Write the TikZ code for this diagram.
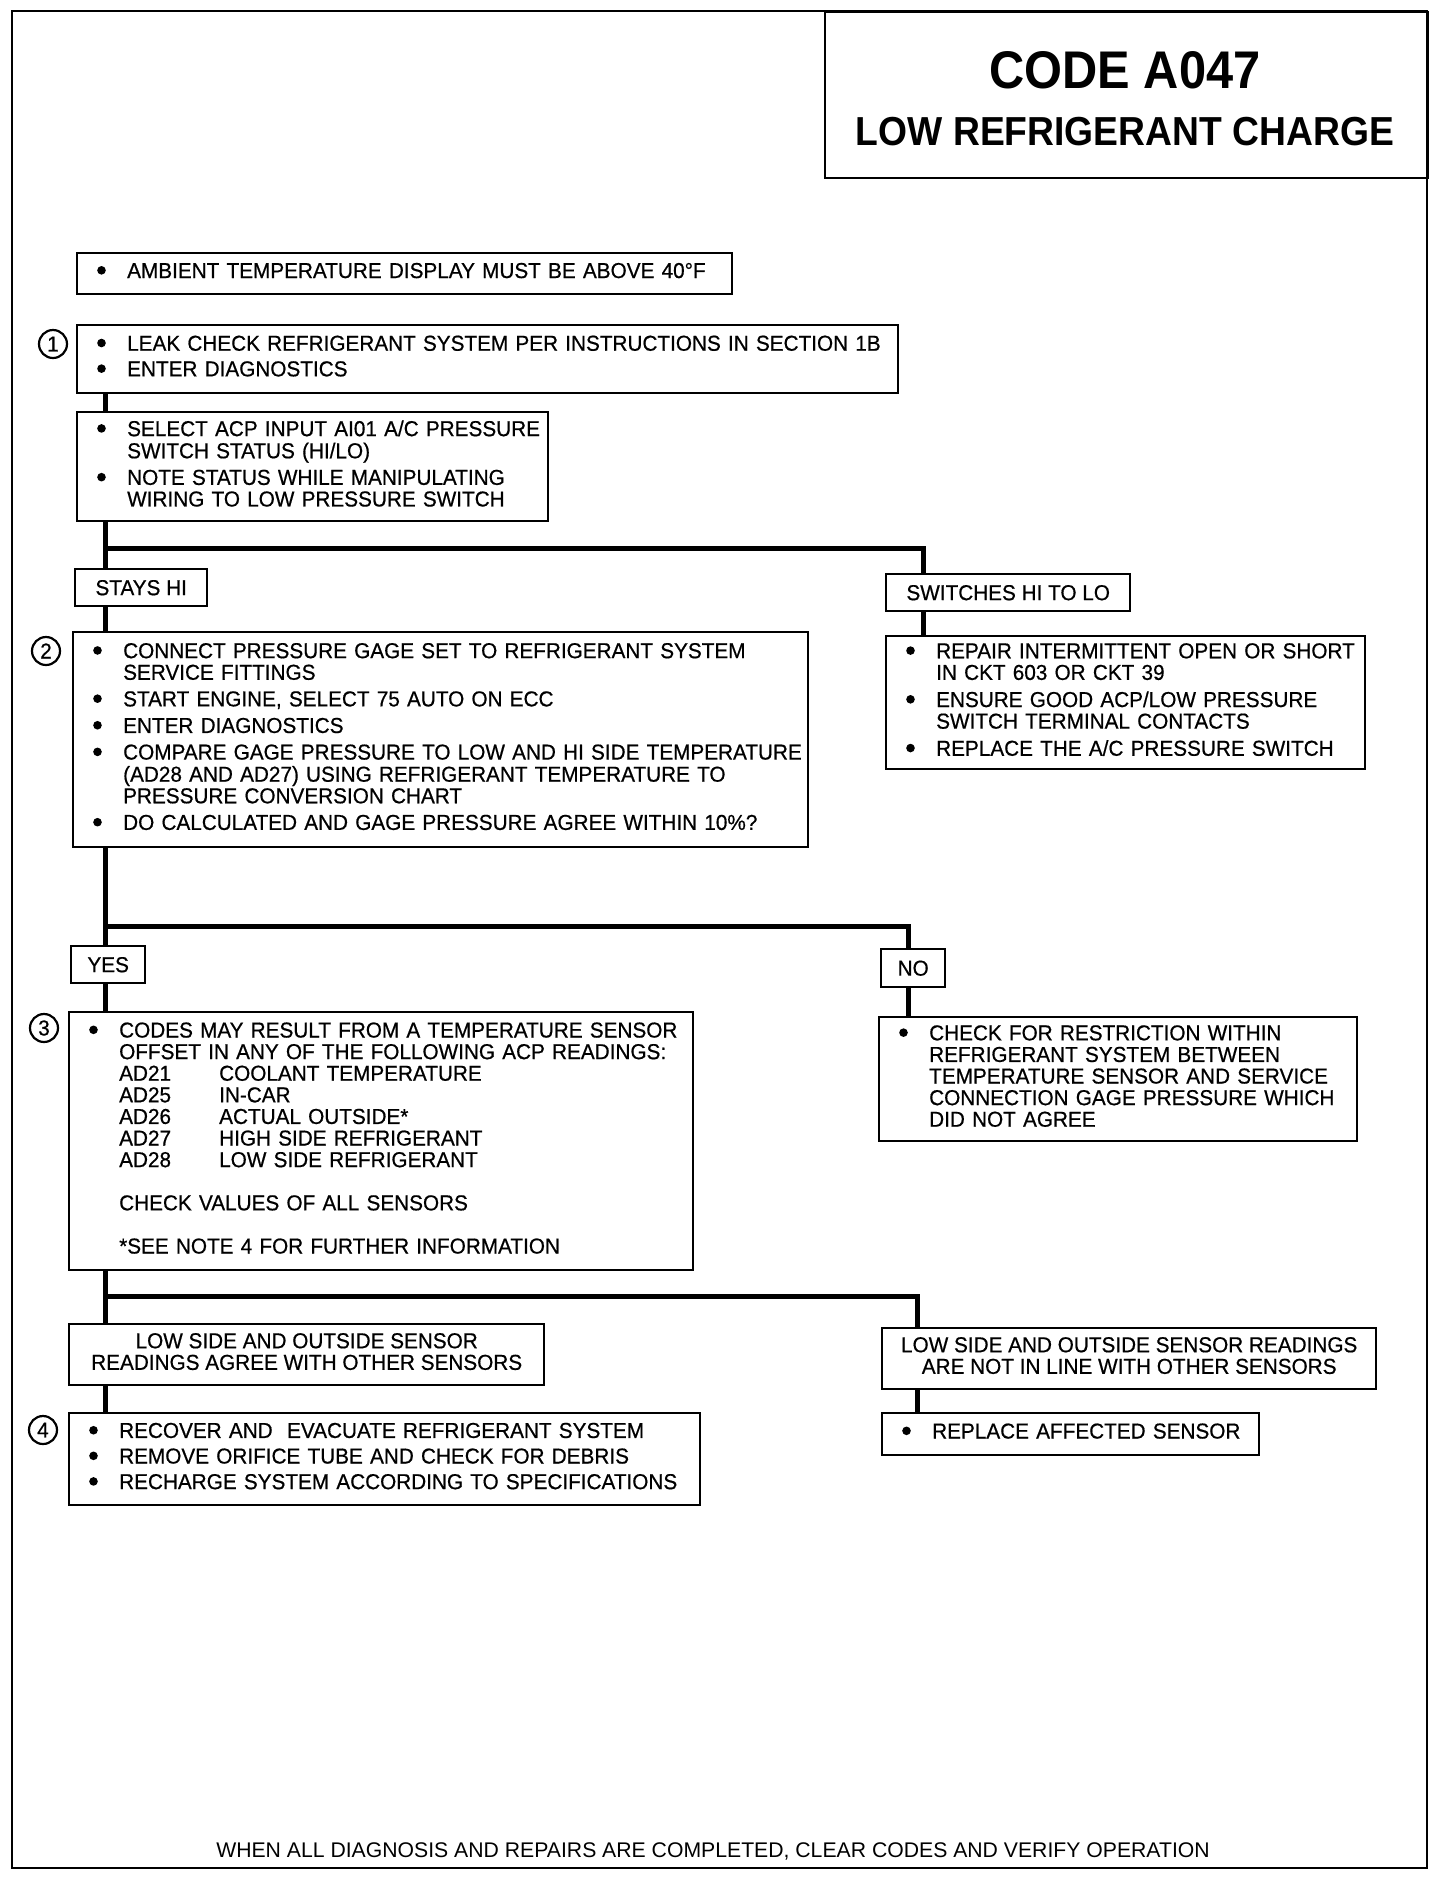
\documentclass[tikz,border=0pt]{standalone}
\usepackage{fontspec}
\setmainfont{Liberation Sans}
\newfontfamily\bxfont{Liberation Sans}[FakeStretch=0.96,FakeBold=0.6]
\newfontfamily\ttlfont{Liberation Sans}[FakeStretch=0.92]
\usetikzlibrary{calc}
\newcommand\fs{\bxfont\fontsize{21.6}{21.6}\selectfont}
\newcommand\bu{\makebox[30pt][l]{\tikz[baseline=0pt]\fill (4.3pt,7.7pt) circle[radius=4.3pt];}}
\newcommand\tb[1]{\begin{tabular}{@{}l@{}l@{}}#1\end{tabular}}
\newcommand\tc[1]{\begin{tabular}{@{}c@{}}#1\end{tabular}}
\begin{document}
\begin{tikzpicture}[x=1pt,y=-1pt,
  box/.style={draw, line width=2.4pt, inner xsep=20pt, inner ysep=0pt, anchor=north west, font=\fs, align=left},
  cbox/.style={draw, line width=2.4pt, inner sep=0pt, anchor=north west, font=\fs},
  circ/.style={circle, draw, line width=2.2pt, minimum size=28pt, inner sep=0pt, font=\fs},
  conn/.style={line width=5pt, line join=miter},
  frame/.style={line width=2.4pt}]
\useasboundingbox (0,0) rectangle (1440,1880);
\draw[frame] (12,11) rectangle (1427,1868);

% title
\node[cbox, minimum width=603pt, minimum height=166pt] (title) at (824,11) {};
\node[font=\ttlfont\bfseries\fontsize{53}{54}\selectfont] (t1) at (1125,70) {CODE A047};
\node[font=\ttlfont\bfseries\fontsize{40.5}{41}\selectfont] (t2) at (1125,132) {LOW REFRIGERANT CHARGE};

% boxes
\node[box, text width=615pt, minimum height=41pt] (amb) at (76,252)
  {\tb{\bu & AMBIENT TEMPERATURE DISPLAY MUST BE ABOVE 40°F}};
\node[box, text width=781pt, minimum height=68pt] (b1) at (76,324)
  {\tb{\bu & LEAK CHECK REFRIGERANT SYSTEM PER INSTRUCTIONS IN SECTION 1B\\[4pt]
       \bu & ENTER DIAGNOSTICS}};
\node[circ] (c1) at (53,344) {1};
\node[box, text width=431pt, minimum height=109pt] (bs) at (76,411)
  {\tb{\bu & SELECT ACP INPUT AI01 A/C PRESSURE\\
           & SWITCH STATUS (HI/LO)\\[5pt]
       \bu & NOTE STATUS WHILE MANIPULATING\\
           & WIRING TO LOW PRESSURE SWITCH}};
\node[cbox, minimum width=132pt, minimum height=37pt] (stays) at (74,568) {STAYS HI};
\node[cbox, minimum width=244pt, minimum height=37pt] (switches) at (885,573) {SWITCHES HI TO LO};
\node[box, text width=439pt, minimum height=133pt] (repair) at (885,635)
  {\tb{\bu & REPAIR INTERMITTENT OPEN OR SHORT\\
           & IN CKT 603 OR CKT 39\\[5pt]
       \bu & ENSURE GOOD ACP/LOW PRESSURE\\
           & SWITCH TERMINAL CONTACTS\\[5pt]
       \bu & REPLACE THE A/C PRESSURE SWITCH}};
\node[box, text width=695pt, minimum height=215pt] (b2) at (72,631)
  {\tb{\bu & CONNECT PRESSURE GAGE SET TO REFRIGERANT SYSTEM\\
           & SERVICE FITTINGS\\[5pt]
       \bu & START ENGINE, SELECT 75 AUTO ON ECC\\[5pt]
       \bu & ENTER DIAGNOSTICS\\[5pt]
       \bu & COMPARE GAGE PRESSURE TO LOW AND HI SIDE TEMPERATURE\\
           & (AD28 AND AD27) USING REFRIGERANT TEMPERATURE TO\\
           & PRESSURE CONVERSION CHART\\[5pt]
       \bu & DO CALCULATED AND GAGE PRESSURE AGREE WITHIN 10\%?}};
\node[circ] (c2) at (46,651) {2};
\node[cbox, minimum width=74pt, minimum height=37pt] (yes) at (70,945) {YES};
\node[cbox, minimum width=64pt, minimum height=38pt] (no) at (880,948) {NO};
\node[box, text width=438pt, minimum height=124pt] (check) at (878,1016)
  {\tb{\bu & CHECK FOR RESTRICTION WITHIN\\
           & REFRIGERANT SYSTEM BETWEEN\\
           & TEMPERATURE SENSOR AND SERVICE\\
           & CONNECTION GAGE PRESSURE WHICH\\
           & DID NOT AGREE}};
\node[box, text width=584pt, minimum height=258pt] (b3) at (68,1011)
  {\tb{\bu & CODES MAY RESULT FROM A TEMPERATURE SENSOR\\
           & OFFSET IN ANY OF THE FOLLOWING ACP READINGS:\\
           & \makebox[100pt][l]{AD21}COOLANT TEMPERATURE\\
           & \makebox[100pt][l]{AD25}IN-CAR\\
           & \makebox[100pt][l]{AD26}ACTUAL OUTSIDE*\\
           & \makebox[100pt][l]{AD27}HIGH SIDE REFRIGERANT\\
           & \makebox[100pt][l]{AD28}LOW SIDE REFRIGERANT\\[21.6pt]
           & CHECK VALUES OF ALL SENSORS\\[21.6pt]
           & *SEE NOTE 4 FOR FURTHER INFORMATION}};
\node[circ] (c3) at (44,1028) {3};
\node[cbox, minimum width=475pt, minimum height=61pt] (agree) at (68,1323)
  {\tc{LOW SIDE AND OUTSIDE SENSOR\\READINGS AGREE WITH OTHER SENSORS}};
\node[cbox, minimum width=494pt, minimum height=61pt] (notin) at (881,1327)
  {\tc{LOW SIDE AND OUTSIDE SENSOR READINGS\\ARE NOT IN LINE WITH OTHER SENSORS}};
\node[box, text width=337pt, minimum height=42pt] (replace) at (881,1412)
  {\tb{\bu & REPLACE AFFECTED SENSOR}};
\node[box, text width=591pt, minimum height=92pt] (b4) at (68,1412)
  {\tb{\bu & RECOVER AND \ EVACUATE REFRIGERANT SYSTEM\\[4pt]
       \bu & REMOVE ORIFICE TUBE AND CHECK FOR DEBRIS\\[4pt]
       \bu & RECHARGE SYSTEM ACCORDING TO SPECIFICATIONS}};
\node[circ] (c4) at (43,1430) {4};

\node[font=\fontsize{21.2}{22}\selectfont] (foot) at (713,1851)
  {WHEN ALL DIAGNOSIS AND REPAIRS ARE COMPLETED, CLEAR CODES AND VERIFY OPERATION};

% connectors
\coordinate (trunk) at (105,0);
\coordinate (j1) at (105,548);
\coordinate (j2) at (105,926);
\coordinate (j3) at (105,1296);
\coordinate (r1) at (923,0);
\coordinate (r2) at (908,0);
\coordinate (r3) at (917,0);
\draw[conn] (b1.south -| trunk) -- (bs.north -| trunk);
\draw[conn] (bs.south -| trunk) -- (stays.north -| trunk);
\draw[conn] (j1) -| (switches.north -| r1);
\draw[conn] (switches.south -| r1) -- (repair.north -| r1);
\draw[conn] (stays.south -| trunk) -- (b2.north -| trunk);
\draw[conn] (b2.south -| trunk) -- (yes.north -| trunk);
\draw[conn] (j2) -| (no.north -| r2);
\draw[conn] (no.south -| r2) -- (check.north -| r2);
\draw[conn] (yes.south -| trunk) -- (b3.north -| trunk);
\draw[conn] (b3.south -| trunk) -- (agree.north -| trunk);
\draw[conn] (j3) -| (notin.north -| r3);
\draw[conn] (notin.south -| r3) -- (replace.north -| r3);
\draw[conn] (agree.south -| trunk) -- (b4.north -| trunk);
\end{tikzpicture}
\end{document}
